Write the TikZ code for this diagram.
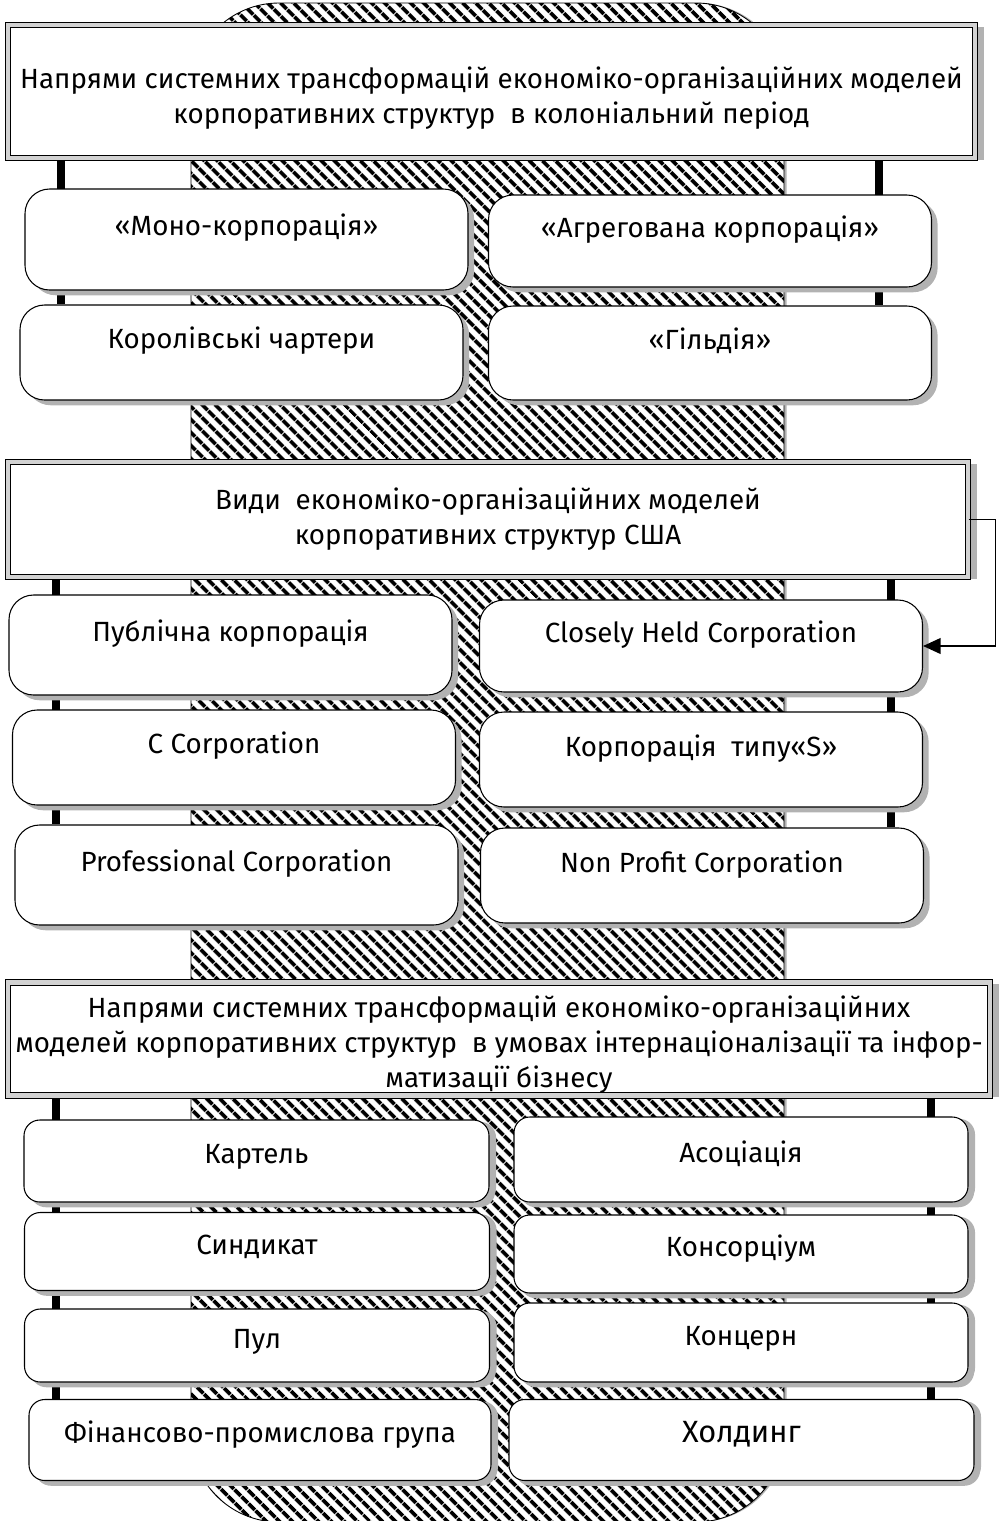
\documentclass[tikz,border=0pt]{standalone}
\usepackage{fontspec}
\setmainfont{Fira Sans}
\usetikzlibrary{shadows,patterns.meta,backgrounds,arrows.meta}

\begin{document}
\begin{tikzpicture}[x=0.2mm,y=-0.2mm,
  every node/.style={font=\fontsize{15.8pt}{19.8pt}\selectfont},
  band/.style={draw,line width=0.5pt,rounded corners=17.6mm,
    drop shadow={shadow xshift=1.5pt,shadow yshift=0pt,fill=gray!60,opacity=1},
    preaction={fill=white},pattern={Lines[angle=-45,distance=5.4pt,line width=2.3pt]}},
  head/.style={draw,line width=0.6pt,double=gray!35,double distance=2.6pt,fill=white,align=center,
    inner ysep=0pt,drop shadow={shadow xshift=5pt,shadow yshift=-1pt,fill=gray!60,opacity=1}},
  box/.style={draw,line width=0.6pt,fill=white,rounded corners=14pt,inner sep=0pt,
    text height=10pt,text depth=14pt,minimum width=88.6mm,
    drop shadow={shadow xshift=3.5pt,shadow yshift=-3pt,fill=gray!60,opacity=1}},
  lowbox/.style={box,rounded corners=9pt,text depth=7pt,minimum height=15.6mm,
    drop shadow={shadow xshift=4pt,shadow yshift=-1pt,fill=gray!60,opacity=1}},
  stem/.style={line width=4.5pt},
  flow/.style={line width=0.8pt,-{Triangle[length=10pt,width=9pt]}}]

\useasboundingbox (0,0) rectangle (998,1521);

% hatched column behind everything
\draw[band] (191,3) rectangle (784,1522);

% first block
\node[head,minimum width=193.4mm,minimum height=26.6mm] (h1) at (491.5,91.5)
  {\rule{0pt}{20pt}Напрями системних трансформацій економіко-організаційних моделей\\корпоративних структур~ в колоніальний період};
\node[box,minimum height=20.2mm] (b11) at (246.5,239.5) {«Моно-корпорація»};
\node[box,minimum height=18.4mm] (b12) at (710,241) {«Агрегована корпорація»};
\node[box,minimum height=19mm] (b21) at (241.5,352.5) {Королівські чартери};
\node[box,minimum height=18.8mm] (b22) at (710,353) {«Гільдія»};

% second block
\node[head,minimum width=192mm,minimum height=23mm] (h2) at (488,519.5)
  {Види~ економіко-організаційних моделей\\корпоративних структур США};
\node[box,minimum height=20mm] (b31) at (230.5,645) {Публічна корпорація};
\node[box,minimum height=18.4mm] (b32) at (701,646) {Closely Held Corporation};
\node[box,minimum height=19mm] (b41) at (234,757.5) {C Corporation};
\node[box,minimum height=19mm] (b42) at (701,759.5) {Корпорація~ типу«S»};
\node[box,minimum height=20mm] (b51) at (236.5,875) {Professional Corporation};
\node[box,minimum height=19mm] (b52) at (702,875.5) {Non Profit Corporation};

% third block
\node[head,minimum width=196.4mm,minimum height=22.6mm] (h3) at (499,1039)
  {\rule{0pt}{19pt}Напрями системних трансформацій економіко-організаційних\\моделей корпоративних структур~ в умовах інтернаціоналізації та інфор-\\матизації бізнесу};
\node[lowbox,minimum width=93mm,minimum height=16.4mm] (b61) at (256.5,1161) {Картель};
\node[lowbox,minimum width=90.8mm,minimum height=17mm] (b62) at (741,1159.5) {Асоціація};
\node[lowbox,minimum width=93mm] (b71) at (257,1251.5) {Синдикат};
\node[lowbox,minimum width=90.8mm] (b72) at (741,1254) {Консорціум};
\node[lowbox,minimum width=93mm,minimum height=14.6mm] (b81) at (257,1345.5) {Пул};
\node[lowbox,minimum width=90.8mm,minimum height=15.8mm] (b82) at (741,1342.5) {Концерн};
\node[lowbox,minimum width=92.4mm,minimum height=16.2mm] (b91) at (260,1440) {Фінансово-промислова група};
\node[lowbox,minimum width=93mm,minimum height=16.2mm,font=\fontsize{17.5pt}{21pt}\selectfont] (b92) at (741.5,1440) {Холдинг};

\coordinate (l1) at (61,0);
\coordinate (r1) at (879,0);
\coordinate (l2) at (56,0);
\coordinate (r2) at (891,0);
\coordinate (r3) at (931,0);

\begin{scope}[on background layer]
  \draw[stem] (h1.south -| l1) -- (b21.north -| l1);
  \draw[stem] (h1.south -| r1) -- (b22.north -| r1);
  \draw[stem] (h2.south -| l2) -- (b51.north -| l2);
  \draw[stem] (h2.south -| r2) -- (b52.north -| r2);
  \draw[stem] (h3.south -| l2) -- (b91.north -| l2);
  \draw[stem] (h3.south -| r3) -- (b92.north -| r3);
\end{scope}

\draw[flow] (h2.east) -- ++(27,0) |- (b32.east);
\end{tikzpicture}
\end{document}
